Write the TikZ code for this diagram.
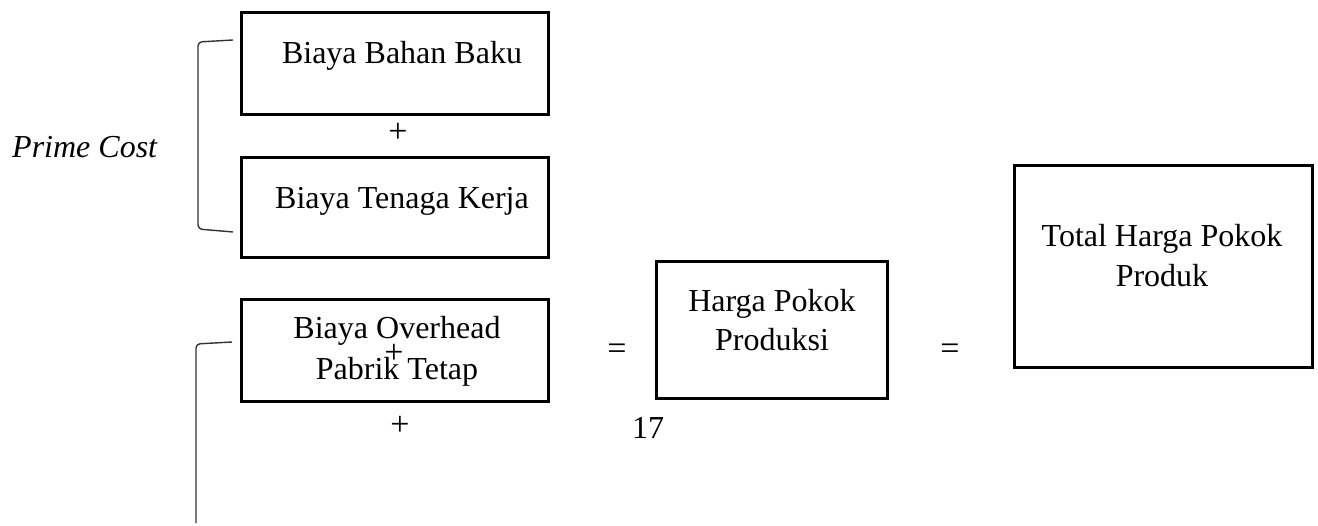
\documentclass[tikz,border=0pt]{standalone}
\usepackage{fontspec}
\setmainfont{Liberation Serif}
\begin{document}
\begin{tikzpicture}[x=1pt,y=-1pt,
  box/.style={draw=black, line width=3pt, inner sep=0pt},
  txt/.style={anchor=base, inner sep=0pt, font=\fontsize{32}{38}\selectfont},
  sym/.style={anchor=center, inner sep=0pt, font=\fontsize{34}{38}\selectfont},
  brace/.style={draw=black!80, line width=1.4pt, rounded corners=4pt}]
\useasboundingbox (0,0) rectangle (1318,526);
% boxes
\node[box, minimum width=307pt, minimum height=102pt] (b1) at (394.5,64) {};
\node[box, minimum width=307pt, minimum height=100pt] (b2) at (394.5,208) {};
\node[box, minimum width=307pt, minimum height=102pt] (b3) at (394.5,351) {};
\node[box, minimum width=231pt, minimum height=137pt] (b4) at (771.5,330.5) {};
\node[box, minimum width=298pt, minimum height=202pt] (b5) at (1163,267) {};
% texts
\node[txt] (t1) at (402,64) {Biaya Bahan Baku};
\node[txt] (t2) at (402,209) {Biaya Tenaga Kerja};
\node[txt] (t3a) at (397,339) {Biaya Overhead};
\node[txt] (t3b) at (397,380) {Pabrik Tetap};
\node[txt] (t4a) at (772,312) {Harga Pokok};
\node[txt] (t4b) at (772,351) {Produksi};
\node[txt] (t5a) at (1162,247) {Total Harga Pokok};
\node[txt] (t5b) at (1162,287) {Produk};
\node[txt, anchor=base west, font=\fontsize{32}{38}\selectfont\itshape] (pc) at (12,158) {Prime Cost};
% operators
\node[sym] (p1) at (398,133) {+};
\node[sym] (p2) at (394,354) {+};
\node[sym] (p3) at (400,426) {+};
\node[sym] (e1) at (617,352) {=};
\node[sym] (e2) at (950,352) {=};
\node[txt] (n17) at (648,439) {17};
% brackets
\coordinate (br1a) at (233,40);
\coordinate (br1b) at (233,232);
\draw[brace] (br1a) -- (198,42) -- (198,229) -- (br1b);
\coordinate (br2a) at (232,342);
\coordinate (br2b) at (196,523);
\draw[brace] (br2a) -- (196,344) -- (br2b);
\end{tikzpicture}
\end{document}
